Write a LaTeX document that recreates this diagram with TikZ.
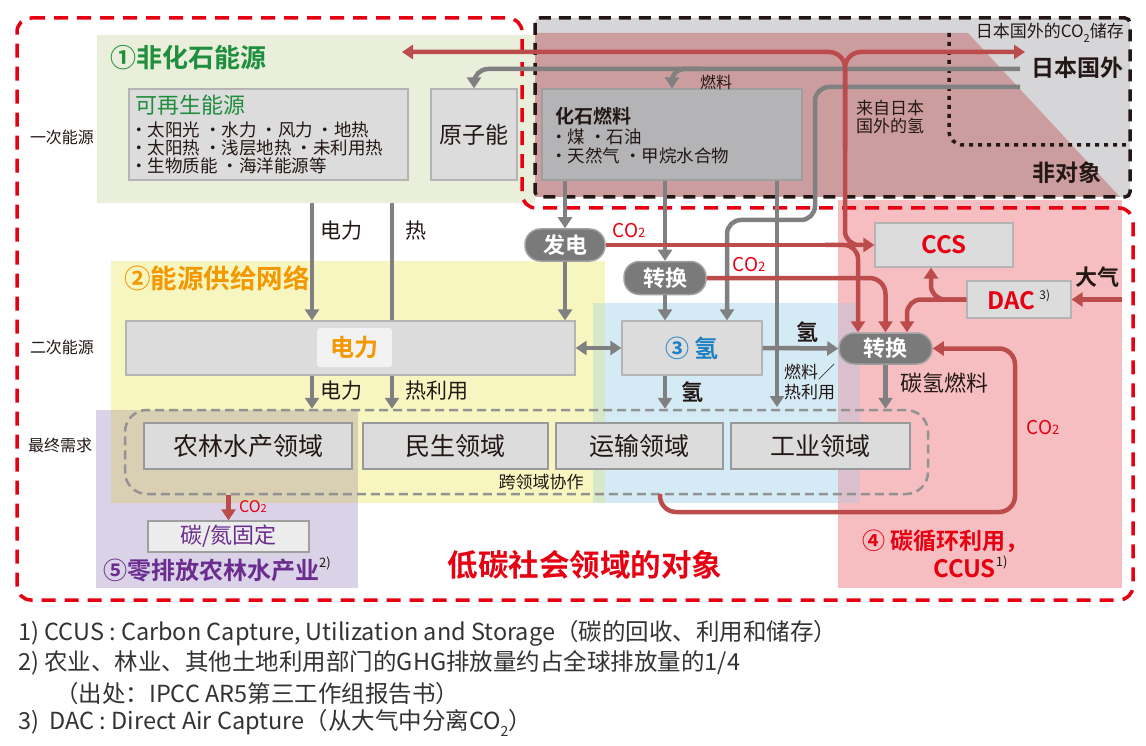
\documentclass[tikz,border=0pt]{standalone}
\usepackage{fontspec}
\setmainfont{Noto Sans CJK SC}[BoldFont={Noto Sans CJK SC Bold}]
\usetikzlibrary{arrows.meta,calc}
\newcommand\fsz[2]{\fontsize{#1}{#2}\selectfont}
\definecolor{ink}{HTML}{231815}
\definecolor{gline}{HTML}{808080}
\definecolor{rline}{HTML}{BC4C4C}
\definecolor{dashred}{HTML}{E60012}
\definecolor{greenbg}{HTML}{EAEFDC}
\definecolor{greentxt}{HTML}{1F8E3D}
\definecolor{boxgrey}{HTML}{DCDCDC}
\definecolor{boxline}{HTML}{B4B4B4}
\definecolor{fossilbg}{HTML}{B4B4B6}
\definecolor{blackbg}{HTML}{D6D6D9}
\definecolor{trapbg}{HTML}{CC9D9F}
\definecolor{pinkbg}{HTML}{F6BEC0}
\definecolor{yellowbg}{HTML}{F8F6C0}
\definecolor{bluebg}{HTML}{D4EAF5}
\definecolor{purplebg}{HTML}{DAD3E7}
\definecolor{tanbg}{HTML}{D9CFB2}
\definecolor{ybbg}{HTML}{D6E8C9}
\definecolor{bpbg}{HTML}{DAC0CC}
\definecolor{orangetxt}{HTML}{F39800}
\definecolor{bluetxt}{HTML}{1B80C4}
\definecolor{purpletxt}{HTML}{6B2C8F}
\definecolor{redtxt}{HTML}{E60012}
\definecolor{pillbg}{HTML}{7A7A7A}
\definecolor{pillline}{HTML}{A0A0A0}
\definecolor{footgrey}{HTML}{333333}
\tikzset{
  gbox/.style={draw=boxline, fill=boxgrey, line width=1.2, inner sep=0, rectangle},
  pillnode/.style={draw=pillline, fill=pillbg, line width=1.5, rounded corners=15.5, text=white, font=\fsz{22}{22}\bfseries, inner sep=0},
  tip/.style={-{Triangle[length=11pt,width=14pt]}},
  gl/.style={draw=gline, line width=4.5, tip},
  gl0/.style={draw=gline, line width=4.5},
  rl/.style={draw=rline, line width=4.5, tip},
  rl0/.style={draw=rline, line width=4.5},
  lab/.style={text=ink, inner sep=0},
  co/.style={text=redtxt, inner sep=0, font=\fsz{19}{19}},
  foot/.style={text=footgrey, inner sep=0, anchor=west, font=\fsz{23.5}{23.5}},
}
\begin{document}
\begin{tikzpicture}[x=1pt,y=-1pt]
\useasboundingbox (0,0) rectangle (1146,746);
\fill[white] (0,0) rectangle (1146,746);
% ---------- backgrounds
\fill[greenbg] (97,35) rectangle (535,203);
\fill[blackbg, rounded corners=5] (535,18) rectangle (1130,197);
\fill[trapbg] (535,33) -- (968,33) -- (1120,197) -- (535,197) -- cycle;
\fill[pinkbg] (838,200) rectangle (1122,588);
\fill[yellowbg] (111,261) rectangle (605,503);
\fill[bluebg] (593,303) rectangle (860,503);
\fill[purplebg] (96,410) rectangle (358,588);
\fill[tanbg] (111,410) rectangle (358,503);
\fill[ybbg] (593,303) rectangle (605,503);
\fill[bpbg] (838,303) rectangle (860,503);
% ---------- outlines
\draw[dashred, line width=3.5, dash pattern=on 14pt off 9pt, rounded corners=14]
  (17,18) -- (522,18) -- (522,208) -- (1133,208) -- (1133,600) -- (17,600) -- cycle;
\draw[ink, line width=3.5, dash pattern=on 12pt off 8pt, rounded corners=5] (535,18) rectangle (1130,197);
\draw[ink, line width=3.5, dash pattern=on 4pt off 5pt, rounded corners=14] (949,33) -- (949,145) -- (1130,145);
\node[draw=gray!85, line width=2.5, dash pattern=on 9pt off 5pt, rounded corners=22, minimum width=803, minimum height=84, inner sep=0] (cross) at (526.5,452) {};
% ---------- boxes
\node[gbox, minimum width=279, minimum height=91] (ren) at (268.5,134.5) {};
\node[gbox, minimum width=86, minimum height=91, font=\fsz{23}{23}, text=ink] (nuc) at (474,134.5) {原子能};
\node[draw=gray!75, fill=fossilbg, line width=1.2, inner sep=0, minimum width=260, minimum height=91] (fossil) at (672,134.5) {};
\node[gbox, minimum width=449, minimum height=54] (elec) at (350.5,348) {};
\node[gbox, minimum width=140, minimum height=54, text=bluetxt, font=\fsz{24}{24}\bfseries] (h2) at (692,348) {③ 氢};
\node[gbox, minimum width=138, minimum height=44, text=redtxt, font=\fsz{24}{24}\bfseries] (ccs) at (944,245) {CCS};
\node[gbox, minimum width=104, minimum height=37, font=\fsz{24}{24}\bfseries] (dac) at (1019,299.5) {\textcolor{redtxt}{DAC}\,\raisebox{0.4em}{\fsz{12}{12}\mdseries\textcolor{ink}{3)}}};
\node[gbox, draw=gray!80, minimum width=208, minimum height=46, font=\fsz{25}{25}, text=ink] (agri) at (248,446) {农林水产领域};
\node[gbox, draw=gray!80, minimum width=185, minimum height=46, font=\fsz{25}{25}, text=ink] (civil) at (455.5,446) {民生领域};
\node[gbox, draw=gray!80, minimum width=167, minimum height=46, font=\fsz{25}{25}, text=ink] (trans) at (639.5,446) {运输领域};
\node[gbox, draw=gray!80, minimum width=179, minimum height=46, font=\fsz{25}{25}, text=ink] (indu) at (820.5,446) {工业领域};
\node[draw=gray!75, fill=gray!15, line width=1.2, inner sep=0, minimum width=161, minimum height=31, text=purpletxt, font=\fsz{22}{22}] (fix) at (228.5,536.5) {碳/氮固定};
\node[fill=gray!10, rounded corners=3, minimum width=75, minimum height=39, inner sep=0, text=orangetxt, font=\fsz{24}{24}\bfseries] (elab) at (354.5,347.5) {电力};
% pills
\node[pillnode, minimum width=80, minimum height=32] (fa) at (565,245) {发电};
\node[pillnode, minimum width=82, minimum height=33] (cv1) at (665,278) {转换};
\node[pillnode, minimum width=93, minimum height=31] (cv2) at (885.5,348.5) {转换};
% ---------- texts
\node[lab, anchor=west, text=greentxt, font=\fsz{26}{26}\bfseries] (t1) at (110,58) {①非化石能源};
\node[lab, anchor=west, text=orangetxt, font=\fsz{26.5}{26.5}\bfseries] (t2) at (124,278) {②能源供给网络};
\node[lab, font=\fsz{16}{16}] (l1) at (62,137) {一次能源};
\node[lab, font=\fsz{16}{16}] (l2) at (62,347) {二次能源};
\node[lab, font=\fsz{16}{16}] (l3) at (60,445) {最终需求};
\node[lab, anchor=west, text=greentxt, font=\fsz{22}{22}] (rt) at (135,105) {可再生能源};
\node[lab, anchor=west, font=\fsz{17.5}{17.5}] (rb1) at (130,130) {・太阳光 ・水力 ・风力 ・地热};
\node[lab, anchor=west, font=\fsz{17.5}{17.5}] (rb2) at (130,148) {・太阳热 ・浅层地热 ・未利用热};
\node[lab, anchor=west, font=\fsz{17.5}{17.5}] (rb3) at (130,166) {・生物质能 ・海洋能源等};
\node[lab, anchor=west, font=\fsz{19}{19}\bfseries] (ft) at (555,116) {化石燃料};
\node[lab, anchor=west, font=\fsz{17.5}{17.5}] (fb1) at (550,137) {・煤 ・石油};
\node[lab, anchor=west, font=\fsz{17.5}{17.5}] (fb2) at (550,156) {・天然气 ・甲烷水合物};
\node[lab, font=\fsz{16}{16}] (fuel) at (716,82) {燃料};
\node[lab, anchor=west, align=left, font=\fsz{17}{17.5}] (fromjp) at (856,117) {来自日本\\国外的氢};
\node[lab, anchor=east, font=\fsz{17}{17}] (jpstore) at (1124,33) {日本国外的CO\raisebox{-0.3em}{\fsz{11}{11}2}储存};
\node[lab, anchor=east, font=\fsz{23}{23}\bfseries] (jp) at (1124,68) {日本国外};
\node[lab, font=\fsz{23}{23}\bfseries] (nt) at (1067,173) {非对象};
\node[lab, anchor=west, font=\fsz{21}{21}] (e1) at (320,231) {电力};
\node[lab, anchor=west, font=\fsz{21}{21}] (h1) at (405,231) {热};
\node[lab, anchor=west, font=\fsz{21}{21}] (e2) at (320,391) {电力};
\node[lab, anchor=west, font=\fsz{21}{21}] (h3) at (405,391) {热利用};
\node[lab, font=\fsz{22}{22}\bfseries] (hy1) at (807,332) {氢};
\node[lab, font=\fsz{22}{22}\bfseries] (hy2) at (692,392) {氢};
\node[lab, anchor=west, font=\fsz{17}{17}] (fh1) at (784,372) {燃料／};
\node[lab, anchor=west, font=\fsz{17}{17}] (fh2) at (784,392) {热利用};
\node[lab, anchor=west, font=\fsz{22}{22}] (hcf) at (900,383) {碳氢燃料};
\node[co] (co2a) at (629,231) {CO{\fsz{13}{13}2}};
\node[co] (co2b) at (749,265) {CO{\fsz{13}{13}2}};
\node[co] (co2c) at (1043,428) {CO{\fsz{13}{13}2}};
\node[co, font=\fsz{16}{16}] (co2d) at (253,507) {CO{\fsz{11}{11}2}};
\node[lab, font=\fsz{22}{22}\bfseries] (air) at (1097,277) {大气};
\node[lab, font=\fsz{17}{17}] (kly) at (541,482) {跨领域协作};
\node[lab, anchor=west, text=purpletxt, font=\fsz{24}{24}\bfseries] (t5) at (103,569) {⑤零排放农林水产业\raisebox{0.5em}{\fsz{13}{13}\mdseries\textcolor{ink}{2)}}};
\node[lab, text=redtxt, font=\fsz{30.5}{30.5}\bfseries] (lc) at (585,565) {低碳社会领域的对象};
\node[lab, anchor=west, text=redtxt, font=\fsz{23}{23}\bfseries] (t4) at (862,541) {④ 碳循环利用，};
\node[lab, anchor=west, text=redtxt, font=\fsz{24}{24}\bfseries] (t4b) at (933,567) {CCUS\raisebox{0.45em}{\fsz{13}{13}\mdseries\textcolor{ink}{1)}}};
% footnotes
\node[foot] (fn1) at (18,633) {1) CCUS : Carbon Capture, Utilization and Storage（碳的回收、利用和储存）};
\node[foot] (fn2) at (18,663) {2) 农业、林业、其他土地利用部门的GHG排放量约占全球排放量的1/4};
\node[foot] (fn3) at (55,694) {（出处：IPCC AR5第三工作组报告书）};
\node[foot] (fn4) at (18,723) {3)\ \ DAC : Direct Air Capture（从大气中分离CO\raisebox{-0.3em}{\fsz{14}{14}2}）};
% ---------- grey connectors
\coordinate (jpA) at (1020,69);
\coordinate (jpB) at (1020,87);
\coordinate (fbr) at (702,69);
\coordinate (hw) at (815,220);
\coordinate (fuelend) at (777,407);
\coordinate (gA) at (312,203);
\coordinate (gB) at (392,203);
\draw[gl, rounded corners=14] (jpA) -| (nuc.north);
\draw[gl, rounded corners=12] (fbr) -| (fossil.north);
\draw[gl, rounded corners=14] (jpB) -| (hw) -| ($(h2.north)+(35,0)$);
\draw[gl] (fa.north |- fossil.south) -- (fa.north);
\draw[gl] (cv1.north |- fossil.south) -- (cv1.north);
\draw[gl] (fuelend |- fossil.south) -- (fuelend);
\draw[gl] (fa.south) -- (fa.south |- elec.north);
\draw[gl] (cv1.south) -- (cv1.south |- h2.north);
\draw[draw=gline, line width=4.5, {Triangle[length=11pt,width=14pt]}-{Triangle[length=11pt,width=14pt]}] (elec.east) -- (h2.west);
\draw[gl] (h2.east) -- (cv2.west);
\draw[gl] (cv1.south |- h2.south) -- (cv1.south |- cross.north);
\draw[gl] (cv2.south) -- (cv2.south |- cross.north);
\draw[gl] (gA) -- (gA |- elec.north);
\draw[gl0] (gB) -- (gB |- elec.north);
\draw[gl] (gA |- elec.south) -- (gA |- cross.north);
\draw[gl] (gB |- elec.south) -- (gB |- cross.north);
% ---------- red connectors
\coordinate (coL) at (402,52);
\coordinate (coR) at (1025,52);
\coordinate (coV) at (845,150);
\coordinate (brR) at (825,245);
\coordinate (airR) at (1122,299.5);
\coordinate (loopS) at (660,494);
\coordinate (loopC) at (1015,512);
\draw[rl, rounded corners=16] (coV) |- (coL);
\draw[rl, rounded corners=16] (coV) |- (coR);
\draw[rl0, rounded corners=14] (coV) -- (coV |- ccs.west) -- ($(ccs.west)+(-12,0)$);
\draw[rl] (fa.east) -- (ccs.west);
\draw[rl, rounded corners=14] (brR) -| ($(cv2.north)+(-27.5,0)$);
\draw[rl, rounded corners=16] (cv1.east) -| (cv2.north);
\draw[rl, rounded corners=14] (dac.west) -| ($(ccs.south)+(-13,0)$);
\draw[rl, rounded corners=14] (dac.west) -| ($(cv2.north)+(21.5,0)$);
\draw[rl] (airR) -- (dac.east);
\draw[rl, rounded corners=16] (loopS) |- (loopC) |- (cv2.east);
\draw[rl] (fix.north |- cross.south) -- (fix.north);
\end{tikzpicture}
\end{document}
